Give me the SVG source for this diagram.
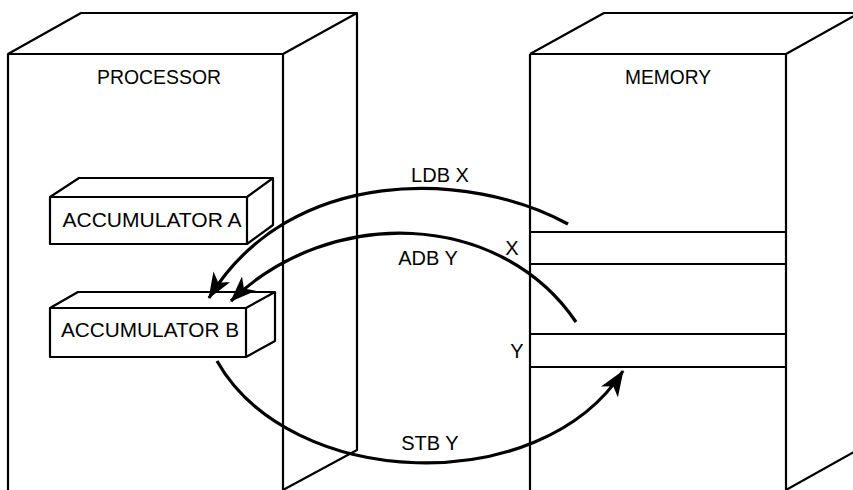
<svg xmlns="http://www.w3.org/2000/svg" width="853" height="490" viewBox="0 0 853 490">
<style>
.box{fill:none;stroke:#000;stroke-width:2.2;stroke-linejoin:round}
.reg{fill:none;stroke:#000;stroke-width:2.2}
.lbl{font-family:"Liberation Sans",Arial,sans-serif;font-size:20px;fill:#000;text-anchor:middle}
.arc{fill:none;stroke:#000;stroke-width:3.2}
</style>
<defs>
<marker id="ah" markerUnits="userSpaceOnUse" markerWidth="28" markerHeight="20" refX="25" refY="10" orient="auto" viewBox="0 0 28 20">
<path d="M0,0 L26,10 L0,20 L7,10 Z" fill="#000"/>
</marker>
</defs>
<rect width="853" height="490" fill="#fff"/>
<g id="processor">
<path class="box" d="M8,54 L81,13 L357,13 L283,54 Z M8,54 L8,490 M283,54 L283,490 M357,13 L357,450 L283,490"/>
<text class="lbl" x="159" y="84" textLength="124" lengthAdjust="spacingAndGlyphs">PROCESSOR</text>
</g>
<g id="accumulator-a">
<path class="box" d="M50,197 L79,178 L273,178 L247,197 Z M50,197 L50,244 L247,244 L247,197 M273,178 L273,225 L247,244"/>
<text class="lbl" x="152" y="227" textLength="179" lengthAdjust="spacingAndGlyphs">ACCUMULATOR A</text>
</g>
<g id="accumulator-b">
<path class="box" d="M50,308 L78,292 L275,292 L246,308 Z M50,308 L50,357 L246,357 L246,308 M275,292 L275,341 L246,357"/>
<text class="lbl" x="150" y="337" textLength="178" lengthAdjust="spacingAndGlyphs">ACCUMULATOR B</text>
</g>
<g id="memory">
<path class="box" d="M530,54 L604,13 L870,13 M530,54 L786,54 L870,7 M530,54 L530,490 M786,54 L786,490 L870,443"/>
<text class="lbl" x="668" y="84" textLength="86" lengthAdjust="spacingAndGlyphs">MEMORY</text>
</g>
<g id="register-x">
<path class="reg" d="M531,232 L786,232 M531,264 L786,264"/>
<text class="lbl" x="512" y="255">X</text>
</g>
<g id="register-y">
<path class="reg" d="M531,334 L786,334 M531,367 L786,367"/>
<text class="lbl" x="517" y="358">Y</text>
</g>
<g id="connectors">
<path class="arc" d="M568,224 C470,170 290,165 209,298" marker-end="url(#ah)"/>
<path class="arc" d="M576,322 C500,210 330,205 231,301" marker-end="url(#ah)"/>
<path class="arc" d="M217,361 C290,490 540,500 623,371" marker-end="url(#ah)"/>
<text class="lbl" x="440" y="182">LDB X</text>
<text class="lbl" x="428" y="265">ADB Y</text>
<text class="lbl" x="430" y="450">STB Y</text>
</g>
</svg>
